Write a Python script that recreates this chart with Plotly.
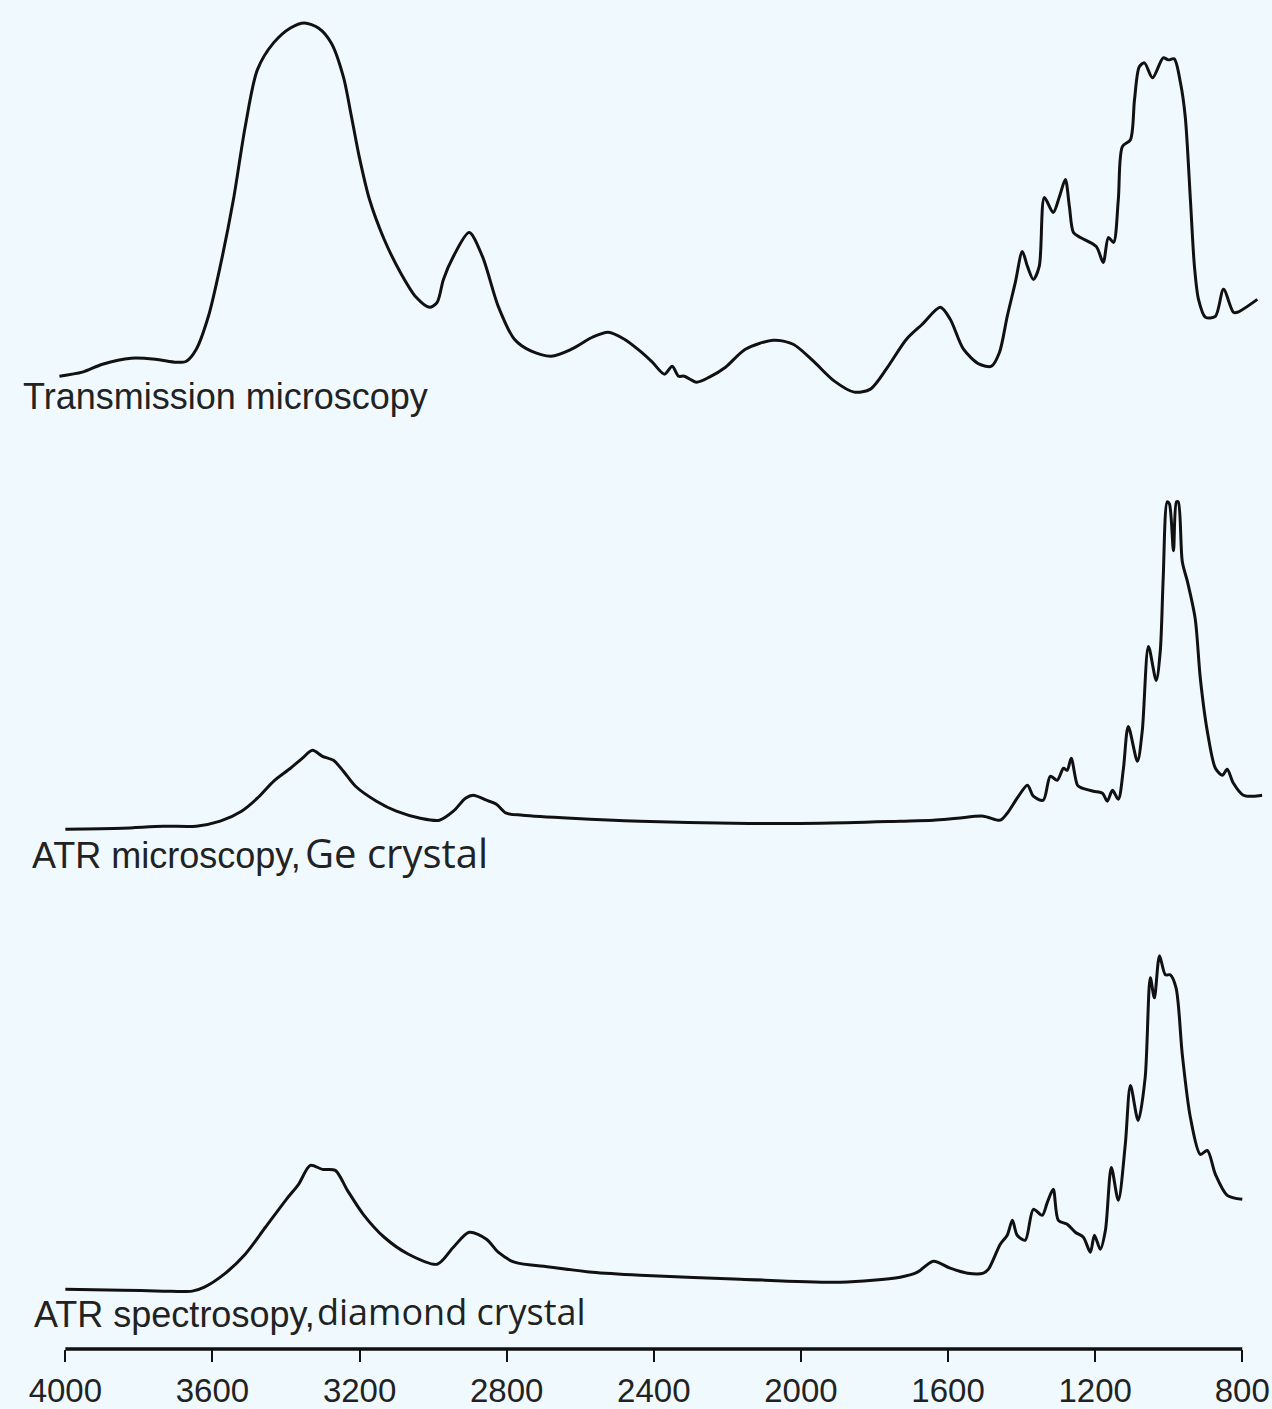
import plotly.graph_objects as go

# Wavenumbers (cm-1) and absorbance (arbitrary units) for the three sampling modes
wn_trans = [4016, 3954, 3899, 3821, 3755, 3698, 3671, 3644, 3611, 3579, 3543, 3511, 3478, 3434,
            3388, 3350, 3312, 3277, 3244, 3222, 3201, 3173, 3133, 3089, 3046, 3010, 2989, 2972,
            2945, 2902, 2866, 2823, 2779, 2733, 2679, 2624, 2567, 2524, 2480, 2437, 2404, 2371,
            2350, 2333, 2317, 2284, 2249, 2205, 2151, 2075, 2021, 1966, 1909, 1855, 1811, 1768,
            1713, 1670, 1621, 1594, 1558, 1515, 1482, 1460, 1439, 1417, 1398, 1384, 1368, 1352,
            1338, 1314, 1297, 1281, 1270, 1259, 1240, 1197, 1178, 1164, 1150, 1137, 1126, 1104,
            1093, 1080, 1066, 1044, 1015, 1001, 985, 968, 955, 941, 930, 919, 900, 873, 851, 824,
            813, 759]
abs_trans = [0.23, 0.27, 0.35, 0.41, 0.40, 0.37, 0.38, 0.50, 0.83, 1.33, 2.00, 2.73, 3.30, 3.57,
             3.72, 3.77, 3.72, 3.57, 3.23, 2.83, 2.43, 2.00, 1.60, 1.27, 1.02, 0.92, 0.97, 1.20,
             1.43, 1.67, 1.43, 0.93, 0.60, 0.48, 0.43, 0.50, 0.62, 0.67, 0.60, 0.48, 0.37, 0.25,
             0.33, 0.23, 0.23, 0.17, 0.22, 0.32, 0.50, 0.59, 0.55, 0.38, 0.18, 0.07, 0.10, 0.30,
             0.60, 0.75, 0.92, 0.80, 0.50, 0.35, 0.33, 0.47, 0.83, 1.17, 1.48, 1.33, 1.20, 1.33,
             2.02, 1.87, 2.03, 2.20, 1.93, 1.67, 1.62, 1.53, 1.37, 1.62, 1.57, 2.00, 2.53, 2.60,
             3.00, 3.33, 3.37, 3.22, 3.42, 3.40, 3.41, 3.17, 2.83, 2.00, 1.33, 1.00, 0.82, 0.83,
             1.10, 0.87, 0.87, 1.00]

wn_ge = [4000, 3845, 3734, 3644, 3579, 3521, 3478, 3434, 3388, 3356, 3328, 3301, 3271, 3244,
         3211, 3154, 3100, 3035, 2983, 2945, 2912, 2891, 2855, 2828, 2801, 2757, 2624, 2437,
         2184, 1947, 1730, 1640, 1575, 1504, 1458, 1439, 1412, 1384, 1368, 1341, 1322, 1303,
         1286, 1276, 1265, 1248, 1235, 1205, 1180, 1167, 1153, 1137, 1123, 1110, 1085, 1072,
         1055, 1034, 1023, 1015, 1004, 998, 987, 979, 974, 963, 949, 928, 914, 895, 873, 854,
         841, 824, 797, 770, 746]
abs_ge = [0.09, 0.10, 0.12, 0.12, 0.17, 0.27, 0.40, 0.57, 0.70, 0.80, 0.88, 0.82, 0.78, 0.67,
          0.52, 0.37, 0.27, 0.20, 0.18, 0.27, 0.40, 0.43, 0.38, 0.34, 0.25, 0.23, 0.20, 0.17,
          0.15, 0.15, 0.17, 0.18, 0.20, 0.22, 0.18, 0.25, 0.40, 0.53, 0.42, 0.38, 0.62, 0.58,
          0.70, 0.68, 0.80, 0.53, 0.50, 0.47, 0.45, 0.37, 0.48, 0.39, 0.70, 1.12, 0.77, 1.07,
          1.92, 1.58, 1.87, 2.60, 3.37, 3.35, 2.88, 3.37, 3.37, 2.77, 2.57, 2.20, 1.60, 1.07,
          0.70, 0.63, 0.69, 0.55, 0.43, 0.42, 0.43]

wn_dia = [4000, 3845, 3734, 3655, 3622, 3568, 3511, 3456, 3399, 3366, 3334, 3301, 3266, 3233,
          3190, 3133, 3067, 2989, 2945, 2902, 2855, 2823, 2779, 2679, 2567, 2437, 2165, 1893,
          1730, 1683, 1640, 1594, 1547, 1504, 1490, 1458, 1439, 1425, 1412, 1390, 1368, 1344,
          1330, 1314, 1300, 1276, 1254, 1232, 1213, 1202, 1186, 1172, 1156, 1137, 1118, 1104,
          1083, 1064, 1050, 1039, 1025, 1009, 996, 980, 963, 941, 914, 895, 873, 841, 800]
abs_dia = [0.08, 0.07, 0.06, 0.06, 0.10, 0.23, 0.43, 0.70, 0.98, 1.13, 1.32, 1.28, 1.27, 1.07,
           0.83, 0.60, 0.43, 0.33, 0.50, 0.65, 0.58, 0.45, 0.35, 0.30, 0.25, 0.22, 0.18, 0.15,
           0.20, 0.25, 0.36, 0.29, 0.24, 0.24, 0.28, 0.53, 0.62, 0.77, 0.62, 0.57, 0.88, 0.82,
           0.95, 1.08, 0.77, 0.73, 0.65, 0.60, 0.45, 0.62, 0.48, 0.67, 1.30, 0.97, 1.53, 2.12,
           1.77, 2.20, 3.20, 3.00, 3.42, 3.23, 3.23, 3.10, 2.43, 1.80, 1.43, 1.47, 1.23, 1.02,
           0.98]

tick_vals = [4000, 3600, 3200, 2800, 2400, 2000, 1600, 1200, 800]

BG = "#F0FAFE"
INK = "#111111"
LABEL_FONT = "Liberation Sans, Arial, sans-serif"
ALT_FONT = "Open Sans, Noto Sans, sans-serif"

fig = go.Figure()
line_style = dict(color=INK, width=3, shape="spline", smoothing=0.8)
fig.add_trace(go.Scatter(x=wn_trans, y=abs_trans, mode="lines", line=line_style,
                         yaxis="y", name="Transmission microscopy"))
fig.add_trace(go.Scatter(x=wn_ge, y=abs_ge, mode="lines", line=line_style,
                         yaxis="y2", name="ATR microscopy, Ge crystal"))
fig.add_trace(go.Scatter(x=wn_dia, y=abs_dia, mode="lines", line=line_style,
                         yaxis="y3", name="ATR spectrosopy, diamond crystal"))

hidden_y = dict(visible=False, range=[0, 4], fixedrange=True)

annotations = [
    dict(text="Transmission microscopy", x=-0.0298, y=0.7060, font=dict(family=LABEL_FONT, size=36, color="#222")),
    dict(text="ATR microscopy,", x=-0.0222, y=0.3660, font=dict(family=LABEL_FONT, size=36, color="#222")),
    dict(text="Ge crystal", x=0.2033, y=0.3680, font=dict(family=ALT_FONT, size=40, color="#222")),
    dict(text="ATR spectrosopy,", x=-0.0207, y=0.0255, font=dict(family=LABEL_FONT, size=36, color="#222")),
    dict(text="diamond crystal", x=0.2132, y=0.0275, font=dict(family=ALT_FONT, size=36, color="#222")),
]
for a in annotations:
    a.update(xref="paper", yref="paper", xanchor="left", yanchor="middle",
             showarrow=False, borderpad=0)

fig.update_layout(
    width=1272, height=1409,
    margin=dict(l=58, r=4, t=0, b=56),
    paper_bgcolor=BG, plot_bgcolor=BG,
    showlegend=False,
    xaxis=dict(range=[4020, 730], anchor="free", position=0,
               showline=False, showgrid=False, zeroline=False,
               tickmode="array", tickvals=tick_vals,
               ticks="outside", ticklen=12, tickwidth=2, tickcolor=INK,
               tickfont=dict(family=LABEL_FONT, size=33, color="#222")),
    yaxis=dict(domain=[0.70414, 1.0], **hidden_y),
    yaxis2=dict(domain=[0.37870, 0.67456], **hidden_y),
    yaxis3=dict(domain=[0.03846, 0.33432], **hidden_y),
    annotations=annotations,
    shapes=[dict(type="line", xref="x", yref="paper", x0=4000, x1=800, y0=0, y1=0,
                 line=dict(color=INK, width=3.5))],
)

fig.write_html("out.html")
